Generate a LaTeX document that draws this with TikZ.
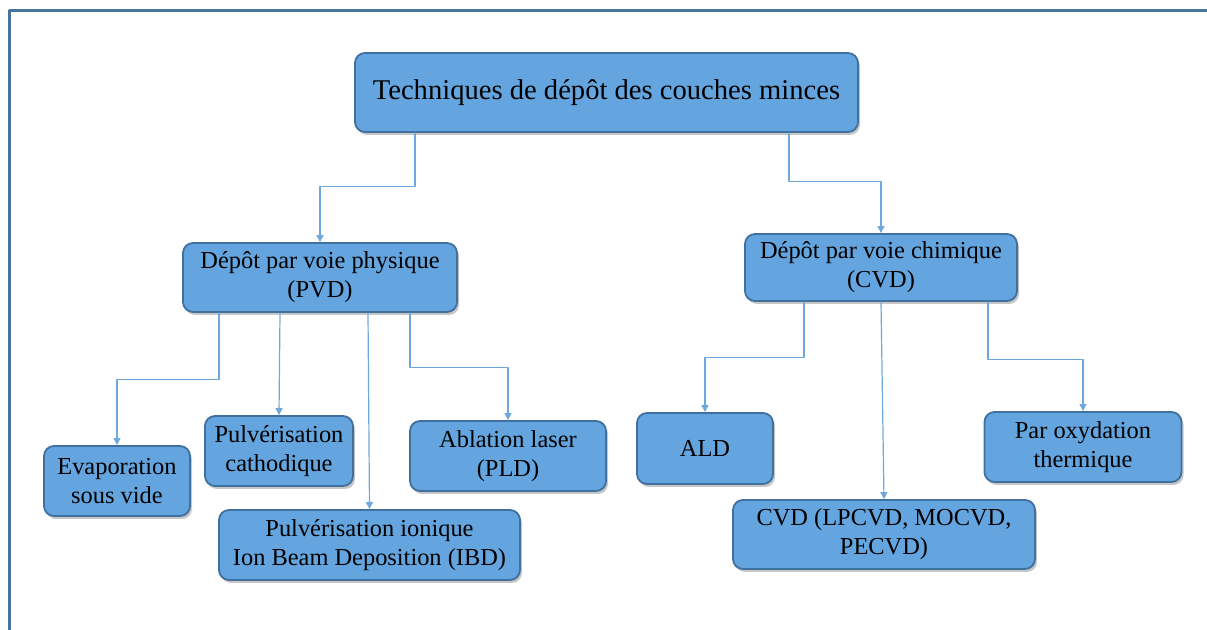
\documentclass[tikz,border=0pt]{standalone}
\usepackage{fontspec}
\setmainfont{Liberation Serif}
\usetikzlibrary{arrows.meta,shadows,calc}
\definecolor{fond}{HTML}{64A5E0}
\definecolor{bord}{HTML}{3F70A0}
\definecolor{fleche}{HTML}{6FA8DC}
\definecolor{cadre}{HTML}{46749E}
\begin{document}
\begin{tikzpicture}[x=0.5pt, y=-0.5pt, line cap=round, line join=round,
	bloc/.style={draw=bord, line width=0.9pt, fill=fond, rounded corners=5pt, align=center, inner sep=0pt,
		font=\fontsize{12.2}{14.5}\selectfont,
		drop shadow={shadow xshift=1pt, shadow yshift=-1.5pt, opacity=.45}},
	lien/.style={draw=fleche, line width=0.6pt, -{Triangle[length=3.5pt,width=3.5pt]}}]
	\useasboundingbox (0,0) rectangle (1207,630);
	% Cadre
	\draw[cadre, line width=1.5pt, line cap=butt] (9.5,630) |- (1207,10.5);
	% Titre
	\node[bloc, minimum width=251.5pt, minimum height=39.5pt, font=\fontsize{14.3}{17}\selectfont] (top) at (606.5,92.5) {Techniques de dépôt des couches minces};
	% Voie physique et voie chimique
	\node[bloc, minimum width=137pt, minimum height=34.5pt] (pvd) at (320,277.5) {Dépôt par voie physique\\(PVD)};
	\node[bloc, minimum width=136pt, minimum height=33.5pt] (cvd) at (881,267.5) {Dépôt par voie chimique\\(CVD)};
	% Techniques PVD
	\node[bloc, minimum width=73pt, minimum height=35pt] (evap) at (117,481) {Evaporation\\sous vide};
	\node[bloc, minimum width=74pt, minimum height=35pt] (pulv) at (279,451) {Pulvérisation\\cathodique};
	\node[bloc, minimum width=150.5pt, minimum height=35pt] (ibd) at (369.5,545) {Pulvérisation ionique\\Ion Beam Deposition (IBD)};
	\node[bloc, minimum width=98pt, minimum height=35pt] (pld) at (508,456) {Ablation laser\\(PLD)};
	% Techniques CVD
	\node[bloc, minimum width=68pt, minimum height=35.5pt] (ald) at (705,448.5) {ALD};
	\node[bloc, minimum width=151pt, minimum height=34.5pt] (cvdx) at (884,534.5) {CVD (LPCVD, MOCVD,\\PECVD)};
	\node[bloc, minimum width=98.5pt, minimum height=35pt] (oxy) at (1083,447) {Par oxydation\\thermique};
	% Liens
	\draw[lien] ($(top.south)+(-191.5,0)$) -- ++(0,54) -| (pvd.north);
	\draw[lien] ($(top.south)+(182.5,0)$) -- ++(0,49) -| (cvd.north);
	\draw[lien] ($(pvd.south)+(-101,0)$) -- ++(0,67) -| (evap.north);
	\draw[lien] ($(pvd.south)+(-40,0)$) -- (pulv.north);
	\draw[lien] ($(pvd.south)+(48,0)$) -- (ibd.north);
	\draw[lien] ($(pvd.south)+(90,0)$) -- ++(0,55) -| (pld.north);
	\draw[lien] ($(cvd.south)+(-77,0)$) -- ++(0,56) -| (ald.north);
	\draw[lien] (cvd.south) -- (cvdx.north);
	\draw[lien] ($(cvd.south)+(107,0)$) -- ++(0,58) -| (oxy.north);
\end{tikzpicture}
\end{document}
